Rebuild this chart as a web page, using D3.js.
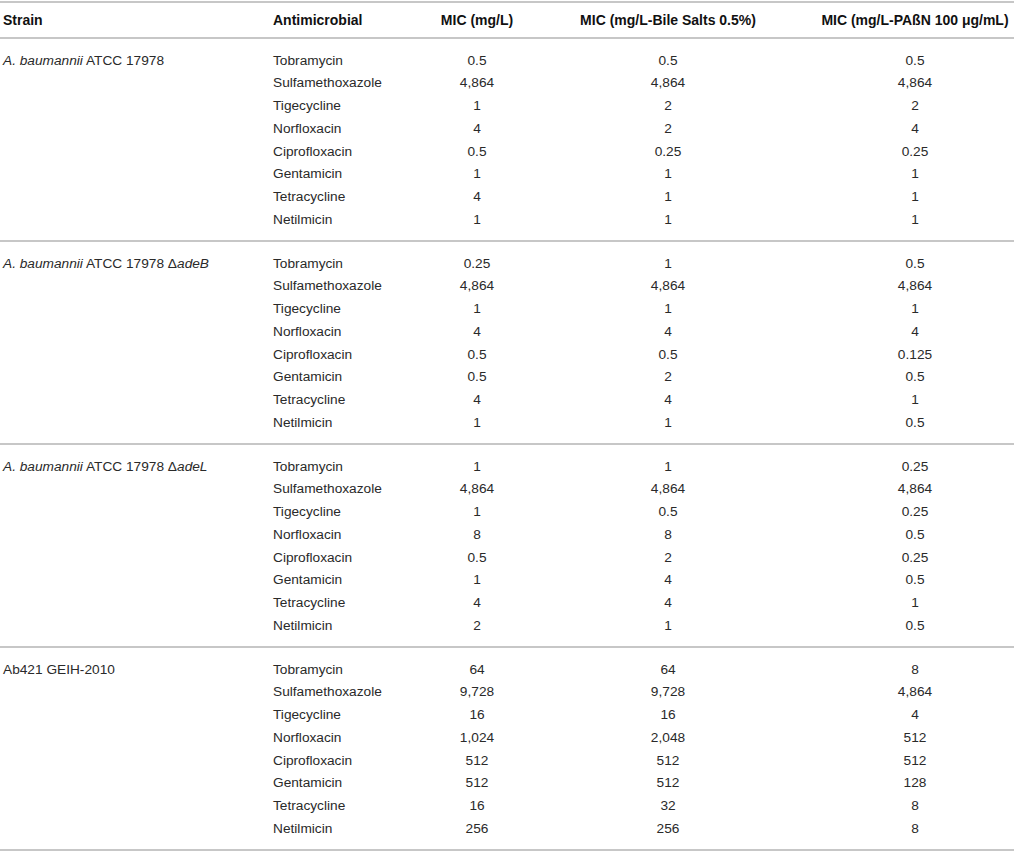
<!DOCTYPE html>
<html>
<head>
<meta charset="utf-8">
<script src="https://cdn.jsdelivr.net/npm/d3@7"></script>
<style>
    body { margin: 0; background: #fff; }
    text { font-family: "Liberation Sans", Arial, Helvetica, sans-serif; font-size: 13.7px; }
    .head { font-weight: bold; fill: #111; font-size: 14px; }
    .cell { fill: #2a2a2a; }
</style>
</head>
<body>
<div id="table"></div>
<script>
    // column headers
    let headers = ["Strain", "Antimicrobial", "MIC (mg/L)", "MIC (mg/L-Bile Salts 0.5%)", "MIC (mg/L-PAßN 100 μg/mL)"];

    // strains, italic parts between * *
    let strains = [
        "*A. baumannii* ATCC 17978",
        "*A. baumannii* ATCC 17978 Δ*adeB*",
        "*A. baumannii* ATCC 17978 Δ*adeL*",
        "Ab421 GEIH-2010"
    ];

    let antimicrobials = ["Tobramycin", "Sulfamethoxazole", "Tigecycline", "Norfloxacin",
        "Ciprofloxacin", "Gentamicin", "Tetracycline", "Netilmicin"];

    // one array per strain, in antimicrobial order
    let mic = [
        [0.5, 4864, 1, 4, 0.5, 1, 4, 1],
        [0.25, 4864, 1, 4, 0.5, 0.5, 4, 1],
        [1, 4864, 1, 8, 0.5, 1, 4, 2],
        [64, 9728, 16, 1024, 512, 512, 16, 256]
    ];
    let micBile = [
        [0.5, 4864, 2, 2, 0.25, 1, 1, 1],
        [1, 4864, 1, 4, 0.5, 2, 4, 1],
        [1, 4864, 0.5, 8, 2, 4, 4, 1],
        [64, 9728, 16, 2048, 512, 512, 32, 256]
    ];
    let micPabn = [
        [0.5, 4864, 2, 4, 0.25, 1, 1, 1],
        [0.5, 4864, 1, 4, 0.125, 0.5, 1, 0.5],
        [0.25, 4864, 0.25, 0.5, 0.25, 0.5, 1, 0.5],
        [8, 4864, 4, 512, 512, 128, 8, 8]
    ];

    let width = 1014, height = 854;
    let fmt = d3.format(",");

    let svg = d3.select("#table")
        .append("svg")
        .attr("width", width)
        .attr("height", height);

    // separator lines: header bottom, then one under every strain block
    let blockY = d3.scaleLinear()
        .domain([0, strains.length])
        .range([38, 850]);

    let rowY = d3.scaleLinear()
        .domain([0, antimicrobials.length - 1])
        .range([22, 22 + 7 * 22.7]);

    // x anchors of the columns (first two left aligned, MIC columns centred)
    let colX = d3.scaleOrdinal()
        .domain(headers)
        .range([3, 273, 477, 668, 915]);

    let lines = [2].concat(d3.range(strains.length + 1).map(i => blockY(i)));
    svg.selectAll(".rule")
        .data(lines)
        .join("line")
        .attr("class", "rule")
        .attr("x1", 0)
        .attr("x2", width)
        .attr("y1", d => d)
        .attr("y2", d => d)
        .attr("stroke", "#b4b4b4")
        .attr("stroke-width", 1.5);

    // header row
    svg.selectAll(".head")
        .data(headers)
        .join("text")
        .attr("class", "head")
        .attr("x", d => colX(d))
        .attr("y", 20)
        .attr("dy", "0.35em")
        .attr("text-anchor", (d, i) => i < 2 ? "start" : "middle")
        .text(d => d);

    // build rows
    let rows = [];
    strains.forEach(function (s, b) {
        antimicrobials.forEach(function (a, i) {
            rows.push({ block: b, i: i, drug: a, vals: [mic[b][i], micBile[b][i], micPabn[b][i]] });
        });
    });

    let rowG = svg.selectAll(".row")
        .data(rows)
        .join("g")
        .attr("class", "row")
        .attr("transform", d => `translate(0, ${blockY(d.block) + rowY(d.i)})`);

    rowG.append("text")
        .attr("class", "cell")
        .attr("x", colX(headers[1]))
        .attr("dy", "0.35em")
        .text(d => d.drug);

    rowG.selectAll(".val")
        .data(d => d.vals)
        .join("text")
        .attr("class", "cell val")
        .attr("x", (d, k) => colX(headers[k + 2]))
        .attr("dy", "0.35em")
        .attr("text-anchor", "middle")
        .text(d => fmt(d));

    // strain names, with italic pieces
    let strainText = svg.selectAll(".strain")
        .data(strains)
        .join("text")
        .attr("class", "cell strain")
        .attr("x", colX(headers[0]))
        .attr("y", (d, b) => blockY(b) + rowY(0))
        .attr("dy", "0.35em");

    strainText.selectAll("tspan")
        .data(d => d.split("*").map((p, k) => ({ t: p, it: k % 2 == 1 })).filter(p => p.t.length))
        .join("tspan")
        .style("font-style", d => d.it ? "italic" : "normal")
        .text(d => d.t);
</script>
</body>
</html>
